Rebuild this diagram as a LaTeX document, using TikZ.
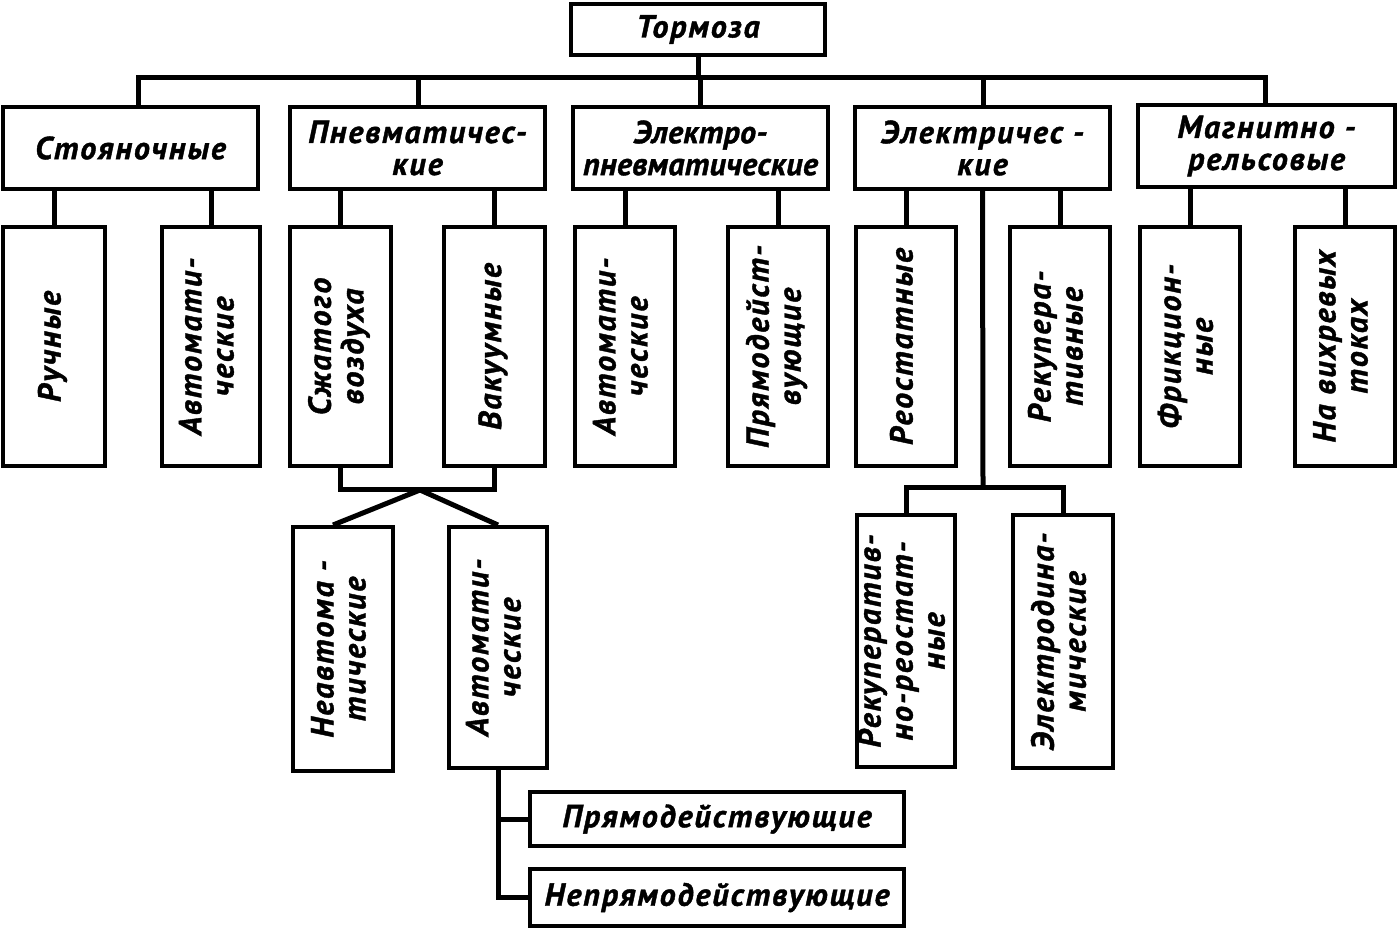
\documentclass[tikz,border=0pt]{standalone}
\usepackage{fontspec}
\usepackage{graphicx}
\newfontfamily\lblfont{PT Sans}[LetterSpace=6, BoldItalicFeatures={FakeBold=1.2}]
\tikzset{
  box/.style={draw, line width=2pt, inner sep=0pt, align=center,
    font=\lblfont\bfseries\itshape\fontsize{16}{16}\selectfont},
  wh/.style 2 args={minimum width=#1*0.5pt, minimum height=#2*0.5pt},
  conn/.style={line width=2.5pt}
}
\newcommand\vlab[1]{\rotatebox{90}{\begin{tabular}{@{}c@{}}#1\end{tabular}}}
\begin{document}
\begin{tikzpicture}[x=0.5pt,y=-0.5pt]
\useasboundingbox (0,0) rectangle (1400,929);
% root
\node[box, wh={254}{51}] (top) at (698,29.5) {Тормоза};
% level 2
\node[box, wh={255}{82}] (st) at (130.5,148) {Стояночные};
\node[box, wh={255}{82}] (pn) at (417.5,148) {Пневматичес-\\кие};
\node[box, wh={255}{82}] (ep) at (700.5,148) {\addfontfeature{LetterSpace=1}Электро-\\\addfontfeature{LetterSpace=1}пневматические};
\node[box, wh={255}{82}] (el) at (982.5,148) {Электричес -\\кие};
\node[box, wh={257}{82}] (mr) at (1266.5,146) {Магнитно -\\рельсовые};
% level 3
\node[box, wh={102}{239}] (ru) at (54,346.5) {\vlab{Ручные}};
\node[box, wh={98}{239}] (a1) at (211,346.5) {\vlab{Автомати-\\ческие}};
\node[box, wh={101}{239}] (sz) at (340.5,346.5) {\vlab{Сжатого\\воздуха}};
\node[box, wh={101}{239}] (va) at (494.5,346.5) {\vlab{Вакуумные}};
\node[box, wh={100}{239}] (a2) at (625,346.5) {\vlab{Автомати-\\ческие}};
\node[box, wh={100}{239}] (pd) at (778,346.5) {\vlab{Прямодейст-\\вующие}};
\node[box, wh={100}{239}] (re) at (906,346.5) {\vlab{Реостатные}};
\node[box, wh={100}{239}] (rk) at (1060,346.5) {\vlab{Рекупера-\\тивные}};
\node[box, wh={100}{239}] (fr) at (1190,346.5) {\vlab{Фрикцион-\\ные}};
\node[box, wh={100}{239}] (nv) at (1345,346.5) {\vlab{На вихревых\\токах}};
% level 4
\node[box, wh={100}{244}] (na) at (343,649) {\vlab{Неавтома -\\тические}};
\node[box, wh={98}{241}] (a3) at (498,647.5) {\vlab{Автомати-\\ческие}};
\node[box, wh={98}{252}] (rr) at (906,641) {\vlab{Рекуператив-\\но-реостат-\\ные}};
\node[box, wh={100}{253}] (ed) at (1063,641.5) {\vlab{Электродина-\\мические}};
% level 5
\node[box, wh={374}{54}] (pr) at (717,819) {Прямодействующие};
\node[box, wh={374}{57}] (np) at (717,897.5) {Непрямодействующие};
% bus coordinates
\coordinate (b1) at (138,78);
\coordinate (b2) at (418,78);
\coordinate (b3) at (700,78);
\coordinate (b4) at (983,78);
\coordinate (b5) at (1265,78);
\coordinate (pj) at (418,490);
\coordinate (pa) at (420,490);
\coordinate (ej) at (983,488);
% connectors
\draw[conn] (top.south) -- (top.south |- b3);
\draw[conn] (b1 |- st.north) -- (b1) -- (b5) -- (b5 |- mr.north);
\draw[conn] (b2) -- (b2 |- pn.north);
\draw[conn] (b3) -- (b3 |- ep.north);
\draw[conn] (b4) -- (b4 |- el.north);
\foreach \c/\p in {ru/st, a1/st, sz/pn, va/pn, a2/ep, pd/ep, re/el, rk/el, fr/mr, nv/mr}
  \draw[conn] (\c.north) -- (\c.north |- \p.south);
\draw[conn] (sz.south) -- (sz.south |- pj) -- (va.south |- pj) -- (va.south);
\draw[conn] ([xshift=-5pt]na.north) -- (pa) -- (a3.north);
\draw[conn] (a3.south) -- (a3.south |- np.west) -- (np.west);
\draw[conn] (a3.south |- pr.west) -- (pr.west);
\draw[conn] (el.south) -- (ej);
\draw[conn] (rr.north) -- (rr.north |- ej) -- (ed.north |- ej) -- (ed.north);
\end{tikzpicture}
\end{document}
